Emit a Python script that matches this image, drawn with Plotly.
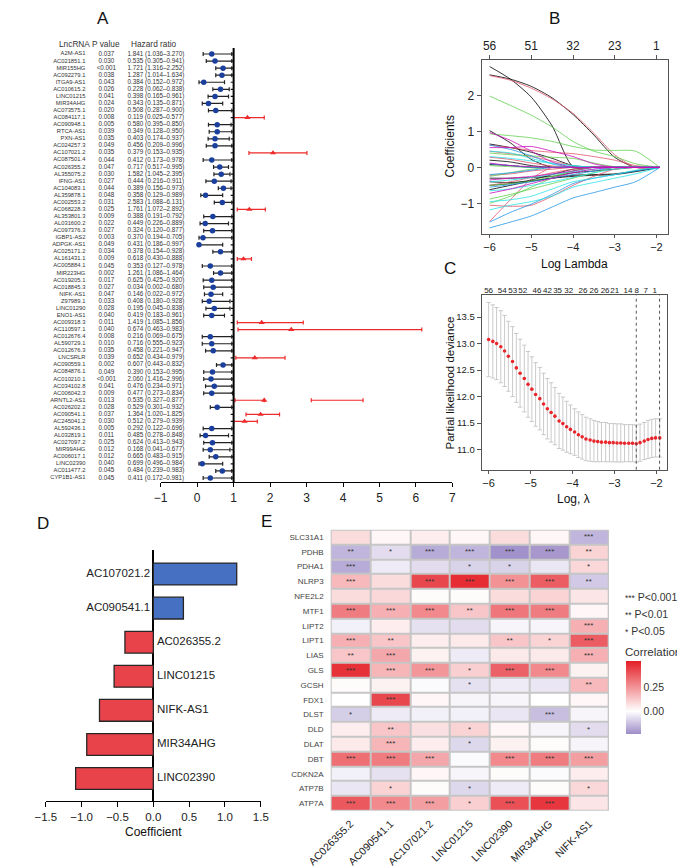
import plotly.graph_objects as go

FONT = "Liberation Sans, Arial, sans-serif"
W, H = 685, 866

# ---------------- Panel A data (forest plot) ----------------
LNC_NAMES = ["A2M-AS1", "AC021851.1", "MIR155HG", "AC092279.1", "ITGA9-AS1", "AC010615.2", "LINC01215",
             "MIR34AHG", "AC073575.1", "AC084117.1", "AC090948.1", "RTCA-AS1", "PXN-AS1", "AC024257.3",
             "AC107021.2", "AC087501.4", "AC026355.2", "AL355075.2", "IFNG-AS1", "AC104083.1", "AL359878.1",
             "AC002553.2", "AC068228.3", "AL353801.3", "AL031600.2", "AC097376.3", "IGBP1-AS2", "ADPGK-AS1",
             "AC025171.2", "AL161431.1", "AC005884.1", "MIR223HG", "AC019205.1", "AC018845.3", "NIFK-AS1",
             "Z97989.1", "LINC01290", "ENO1-AS1", "AC009318.3", "AC110597.1", "AC012676.4", "AL590729.1",
             "AC012676.3", "LNCSRLR", "AC090559.1", "AC084876.1", "AC010210.1", "AC034102.8", "AC006042.3",
             "ARNTL2-AS1", "AC026202.2", "AC090541.1", "AC245041.2", "AL592436.1", "AL032819.1", "AC027097.2",
             "MIR99AHG", "AC006017.1", "LINC02390", "AC011477.2", "CYP1B1-AS1"]
P_VALUES = ["0.037", "0.030", "<0.001", "0.038", "0.043", "0.026", "0.041", "0.024", "0.020", "0.008",
            "0.005", "0.039", "0.035", "0.049", "0.035", "0.044", "0.047", "0.030", "0.027", "0.044",
            "0.048", "0.031", "0.025", "0.009", "0.022", "0.027", "0.003", "0.049", "0.034", "0.009",
            "0.045", "0.002", "0.017", "0.027", "0.047", "0.033", "0.028", "0.040", "0.011", "0.040",
            "0.008", "0.010", "0.035", "0.039", "0.002", "0.049", "<0.001", "0.041", "0.009", "0.013",
            "0.028", "0.037", "0.030", "0.005", "0.011", "0.025", "0.012", "0.012", "0.040", "0.045", "0.045"]
HR_LABEL = [1.841, 0.535, 1.721, 1.287, 0.384, 0.228, 0.398, 0.343, 0.508, 0.119, 0.580, 0.349, 0.403, 0.456,
            0.379, 0.412, 0.717, 1.582, 0.444, 0.389, 0.358, 2.583, 1.761, 0.388, 0.449, 0.324, 0.370, 0.431,
            0.378, 0.618, 0.353, 1.261, 0.625, 0.034, 0.146, 0.408, 0.195, 0.419, 1.419, 0.674, 0.216, 0.716,
            0.458, 0.652, 0.607, 0.390, 2.060, 0.476, 0.477, 0.535, 0.529, 1.364, 0.512, 0.292, 0.485, 0.624,
            0.168, 0.665, 0.699, 0.484, 0.411]
HR_LOW_LABEL = [1.036, 0.305, 1.316, 1.014, 0.152, 0.062, 0.165, 0.135, 0.287, 0.025, 0.395, 0.128, 0.174, 0.209,
                0.153, 0.173, 0.517, 1.045, 0.216, 0.156, 0.129, 1.088, 1.072, 0.191, 0.226, 0.120, 0.194, 0.186,
                0.154, 0.430, 0.127, 1.086, 0.425, 0.002, 0.022, 0.180, 0.045, 0.183, 1.085, 0.463, 0.069, 0.555,
                0.221, 0.434, 0.443, 0.153, 1.416, 0.234, 0.273, 0.327, 0.301, 1.020, 0.279, 0.122, 0.278, 0.413,
                0.041, 0.483, 0.496, 0.239, 0.172]
HR_HIGH_LABEL = [3.270, 0.941, 2.252, 1.634, 0.972, 0.838, 0.961, 0.871, 0.900, 0.577, 0.850, 0.950, 0.937, 0.996,
                 0.935, 0.978, 0.995, 2.395, 0.911, 0.973, 0.989, 6.131, 2.892, 0.792, 0.889, 0.877, 0.705, 0.997,
                 0.928, 0.888, 0.978, 1.464, 0.920, 0.680, 0.972, 0.928, 0.838, 0.961, 1.856, 0.983, 0.675, 0.923,
                 0.947, 0.979, 0.832, 0.995, 2.996, 0.971, 0.834, 0.877, 0.932, 1.825, 0.939, 0.696, 0.848, 0.943,
                 0.677, 0.915, 0.984, 0.983, 0.981]
# positions as drawn in the plot
PLOT_GROUP = list("bbbbbbbbbrbbbbrbbbbbbbrbbbbbbrbbbbbbbbrrbbbrbbbbbrbrrbbbbbbbb")
PLOT_EST = [0.40, 0.49, 0.71, 0.68, 0.18, 0.64, 0.49, 0.31, 0.51, 1.38, 0.55, 0.55, 0.49, 0.49, 2.08, 0.40, 0.62,
            0.66, 0.47, 0.72, 0.23, 0.69, 1.43, 0.43, 0.22, 0.42, 0.16, 0.05, 0.64, 1.27, 0.36, 0.64, 0.40, 0.44,
            0.38, 0.33, 0.47, 0.40, 1.77, 2.58, 0.36, 0.40, 0.44, 1.58, 0.71, 0.42, 0.38, 0.47, 0.40, 1.84, 0.55,
            1.74, 1.30, 0.40, 0.23, 0.42, 0.36, 0.51, 0.14, 0.69, 0.36]
PLOT_LOW = [0.165, 0.25, 0.51, 0.51, 0.05, 0.43, 0.30, 0.14, 0.31, 1.00, 0.31, 0.33, 0.30, 0.25, 1.42, 0.165, 0.45,
            0.46, 0.24, 0.58, 0.10, 0.47, 1.10, 0.18, 0.08, 0.18, 0.05, 0.03, 0.43, 1.10, 0.14, 0.45, 0.165, 0.18,
            0.20, 0.14, 0.24, 0.18, 1.10, 1.12, 0.14, 0.14, 0.23, 1.06, 0.53, 0.18, 0.18, 0.23, 0.18, 1.04, 0.36,
            1.34, 1.00, 0.165, 0.08, 0.18, 0.165, 0.33, 0.05, 0.51, 0.165]
PLOT_HIGH = [0.95, 0.95, 0.95, 0.95, 0.75, 0.88, 0.86, 0.70, 0.95, 1.84, 0.93, 0.95, 0.88, 0.95, 3.01, 0.95, 0.86,
             0.90, 0.93, 0.93, 0.70, 0.95, 1.87, 0.95, 0.86, 0.95, 0.95, 0.70, 0.95, 1.49, 0.95, 0.95, 0.95, 0.95,
             0.70, 0.90, 0.90, 0.75, 2.91, 6.16, 0.95, 0.95, 0.95, 2.41, 0.95, 0.95, 0.95, 0.95, 0.97, 1.84, 0.95,
             2.26, 1.65, 0.95, 0.86, 0.95, 0.90, 0.95, 0.70, 0.95, 0.95]
EXTRA_ROW = ["ARNTL2-AS1"]
EXTRA_LOW = [3.13]
EXTRA_HIGH = [4.55]
HR_REF = 1
HR_TICKS = [-1, 0, 1, 2, 3, 4, 5, 6, 7]

# ---------------- Panel B data (coefficient paths) ----------------
LOG_LAMBDA_B = [-6, -5.5, -5, -4.5, -4, -3.5, -3, -2.5, -1.92]
TOP_B_POS = [-6, -5, -4, -3, -2]
TOP_B_TEXT = ["56", "51", "32", "23", "1"]
PATHS_BLACK = [[2.80, 2.45, 1.95, 1.15, 0.02, 0, 0, 0, 0],
               [2.57, 2.45, 2.25, 1.93, 1.47, 0.90, 0.28, 0, 0],
               [1.02, 0.68, 0.22, 0, 0, 0, 0, 0, 0],
               [0.65, 0.55, 0.42, 0.25, 0.05, 0, 0, 0, 0],
               [0.20, 0.15, 0.05, 0, 0, 0, 0, 0, 0],
               [-0.62, -0.50, -0.38, -0.30, -0.25, -0.22, -0.20, -0.12, 0],
               [-0.30, -0.30, -0.28, -0.25, -0.15, -0.10, -0.05, 0, 0],
               [-0.40, -0.42, -0.38, -0.30, -0.22, -0.20, -0.18, -0.10, 0],
               [0.08, 0.05, 0, 0, 0, 0, 0, 0, 0],
               [-0.50, -0.45, -0.35, -0.20, -0.05, 0, 0, 0, 0]]
PATHS_RED = [[2.55, 2.42, 2.20, 1.90, 1.50, 0.95, 0.35, 0, 0],
             [0.62, 0.55, 0.47, 0.42, 0.38, 0.30, 0.20, 0.05, 0],
             [0.45, 0.38, 0.30, 0.18, 0.05, 0, 0, 0, 0],
             [-1.50, -0.90, -0.32, 0, 0, 0, 0, 0, 0],
             [-1.05, -1.08, -1.05, -0.80, -0.50, -0.25, -0.05, 0, 0],
             [-0.50, -0.40, -0.28, -0.15, -0.05, 0, 0, 0, 0],
             [-0.22, -0.18, -0.10, -0.05, 0, 0, 0, 0, 0],
             [0.28, 0.22, 0.12, 0.04, 0, 0, 0, 0, 0]]
PATHS_GREEN = [[1.98, 1.72, 1.45, 1.12, 0.72, 0.45, 0.30, 0.10, 0],
               [0.93, 0.88, 0.82, 0.72, 0.58, 0.48, 0.47, 0.45, 0],
               [0.40, 0.35, 0.32, 0.28, 0.25, 0.12, 0.02, 0, 0],
               [-1.00, -0.80, -0.55, -0.30, -0.10, 0, 0, 0, 0],
               [-0.88, -0.75, -0.60, -0.45, -0.30, -0.15, 0, 0, 0],
               [-0.25, -0.15, -0.05, 0, 0, 0, 0, 0, 0],
               [-0.50, -0.45, -0.38, -0.25, -0.10, 0, 0, 0, 0],
               [0.05, 0.02, 0, 0, 0, 0, 0, 0, 0]]
PATHS_BLUE = [[0.62, 0.50, 0.32, 0.10, 0, 0, 0, 0, 0],
              [-1.68, -1.52, -1.35, -1.10, -0.85, -0.70, -0.55, -0.40, 0],
              [-1.52, -1.25, -1.02, -0.75, -0.45, -0.30, -0.20, -0.10, 0],
              [-0.55, -0.48, -0.40, -0.30, -0.20, -0.10, 0, 0, 0],
              [-0.20, -0.15, -0.08, 0, 0, 0, 0, 0, 0],
              [0.10, 0.05, 0, 0, 0, 0, 0, 0, 0]]
PATHS_CYAN = [[0.45, 0.40, 0.25, 0.10, 0.05, 0, 0, 0, 0],
              [0.30, 0.25, 0.18, 0.12, 0.05, 0, 0, 0, 0],
              [-1.18, -1.05, -0.95, -0.80, -0.55, -0.42, -0.30, -0.18, 0],
              [-0.95, -0.90, -0.80, -0.60, -0.40, -0.30, -0.20, -0.08, 0],
              [-0.40, -0.35, -0.28, -0.20, -0.12, -0.05, 0, 0, 0],
              [-0.65, -0.60, -0.50, -0.40, -0.28, -0.15, -0.05, 0, 0]]
PATHS_MAGENTA = [[0.97, 0.75, 0.45, 0.15, 0, 0, 0, 0, 0],
                 [0.55, 0.55, 0.58, 0.45, 0.30, 0.10, 0, 0, 0],
                 [0.12, 0.05, 0.02, 0, 0, 0, 0, 0, 0],
                 [-0.72, -0.60, -0.45, -0.30, -0.15, -0.05, 0, 0, 0],
                 [-0.35, -0.30, -0.25, -0.18, -0.10, 0, 0, 0, 0]]

# ---------------- Panel C data (cross-validation) ----------------
LOG_LAMBDA_C = [-6.00, -5.90, -5.81, -5.71, -5.62, -5.53, -5.43, -5.34, -5.25, -5.15, -5.06, -4.97, -4.88, -4.78,
                -4.69, -4.60, -4.51, -4.42, -4.32, -4.23, -4.14, -4.05, -3.95, -3.86, -3.77, -3.68, -3.58, -3.49,
                -3.40, -3.31, -3.21, -3.12, -3.03, -2.94, -2.85, -2.76, -2.66, -2.57, -2.48, -2.39, -2.29, -2.20,
                -2.11, -2.02, -1.92]
CV_DEVIANCE = [13.075, 13.04, 13.00, 12.94, 12.86, 12.76, 12.66, 12.54, 12.44, 12.34, 12.23, 12.14, 12.04, 11.96,
               11.86, 11.77, 11.70, 11.63, 11.54, 11.49, 11.43, 11.38, 11.33, 11.28, 11.24, 11.20, 11.18, 11.16,
               11.15, 11.14, 11.14, 11.13, 11.13, 11.125, 11.125, 11.12, 11.12, 11.12, 11.11, 11.13, 11.16, 11.19,
               11.21, 11.22, 11.22]
CV_SE = [0.70, 0.69, 0.68, 0.68, 0.67, 0.66, 0.66, 0.65, 0.64, 0.63, 0.62, 0.61, 0.60, 0.59, 0.58, 0.57, 0.56,
         0.54, 0.52, 0.50, 0.48, 0.46, 0.44, 0.43, 0.42, 0.41, 0.40, 0.39, 0.38, 0.37, 0.37, 0.36, 0.36, 0.36,
         0.36, 0.35, 0.35, 0.35, 0.35, 0.35, 0.35, 0.36, 0.36, 0.36, 0.36]
TOP_C_POS = [-6.0, -5.675, -5.426, -5.185, -4.845, -4.596, -4.355, -4.091, -3.751, -3.487, -3.223, -2.996,
             -2.679, -2.468, -2.257, -2.038]
TOP_C_TEXT = ["56", "54", "53", "52", "46", "42", "35", "32", "26", "26", "26", "21", "14", "8", "7", "1"]
LAMBDA_MIN = -2.48
LAMBDA_1SE = -1.925

# ---------------- Panel D data ----------------
D_GENES = ["AC107021.2", "AC090541.1", "AC026355.2", "LINC01215", "NIFK-AS1", "MIR34AHG", "LINC02390"]
D_COEF = [1.164, 0.42, -0.396, -0.547, -0.751, -0.929, -1.084]
D_TICKS = [-1.5, -1.0, -0.5, 0.0, 0.5, 1.0, 1.5]

# ---------------- Panel E data ----------------
E_GENES = ["SLC31A1", "PDHB", "PDHA1", "NLRP3", "NFE2L2", "MTF1", "LIPT2", "LIPT1", "LIAS", "GLS", "GCSH",
           "FDX1", "DLST", "DLD", "DLAT", "DBT", "CDKN2A", "ATP7B", "ATP7A"]
E_LNC = ["AC026355.2", "AC090541.1", "AC107021.2", "LINC01215", "LINC02390", "MIR34AHG", "NIFK-AS1"]
COR_AC026355_2 = [0.08, -0.15, -0.17, 0.16, 0.08, 0.30, -0.03, 0.18, 0.13, 0.47, 0.01, 0.00, -0.10, 0.04, 0.05,
                  0.33, -0.03, -0.05, 0.38]
COR_AC090541_1 = [0.02, -0.07, -0.04, 0.08, 0.09, 0.18, 0.04, 0.13, 0.20, 0.17, 0.03, 0.42, -0.04, 0.13, 0.17,
                  0.30, -0.06, 0.10, 0.27]
COR_AC107021_2 = [0.04, -0.17, -0.07, 0.42, 0.01, 0.27, -0.06, 0.04, 0.03, 0.24, -0.01, 0.02, -0.03, 0.07, 0.04,
                  0.20, 0.02, 0.01, 0.22]
COR_LINC01215 = [0.02, -0.15, -0.09, 0.48, 0.01, 0.13, -0.07, 0.05, -0.04, 0.11, -0.06, -0.02, -0.03, 0.10, -0.08,
                 -0.01, -0.02, -0.08, 0.11]
COR_LINC02390 = [0.08, -0.22, -0.09, 0.25, 0.08, 0.31, -0.02, 0.13, 0.05, 0.36, -0.04, -0.02, -0.05, 0.02, 0.03,
                 0.27, 0.01, -0.04, 0.40]
COR_MIR34AHG = [0.02, -0.21, -0.05, 0.37, 0.10, 0.30, -0.02, 0.10, 0.05, 0.27, -0.05, 0.00, -0.13, -0.02, 0.01,
                0.30, -0.01, 0.01, 0.46]
COR_NIFK_AS1 = [-0.15, 0.10, 0.09, -0.11, 0.06, 0.02, 0.18, 0.37, 0.18, 0.03, 0.16, 0.02, -0.02, -0.07, -0.02,
                0.22, 0.04, 0.09, 0.06]
SIG_AC026355_2 = ["", "**", "***", "***", "", "***", "", "***", "**", "***", "", "", "*", "", "", "***", "", "", "***"]
SIG_AC090541_1 = ["", "*", "", "", "", "***", "", "**", "***", "***", "", "***", "", "**", "***", "***", "", "*", "***"]
SIG_AC107021_2 = ["", "***", "", "***", "", "***", "", "", "", "***", "", "", "", "", "", "***", "", "", "***"]
SIG_LINC01215 = ["", "***", "*", "***", "", "**", "", "", "", "*", "*", "", "", "*", "*", "", "", "*", "*"]
SIG_LINC02390 = ["", "***", "*", "***", "", "***", "", "**", "", "***", "", "", "", "", "", "***", "", "", "***"]
SIG_MIR34AHG = ["", "***", "", "***", "", "***", "", "*", "", "***", "", "", "***", "", "", "***", "", "", "***"]
SIG_NIFK_AS1 = ["***", "**", "*", "**", "", "", "***", "***", "***", "", "**", "", "", "*", "", "***", "", "*", ""]
COR_LIMITS = [-0.233, 0.514]
COR_TICKS = [0.0, 0.25]


def px(x):
    return x / W


def py(y):
    return 1 - y / H


fig = go.Figure()
txt = dict(family=FONT, color="#333")

# ---------------- Panel A ----------------
rows = list(range(1, len(LNC_NAMES) + 1))
bi = [i for i, g in enumerate(PLOT_GROUP) if g == "b"]
ri = [i for i, g in enumerate(PLOT_GROUP) if g == "r"]

fig.add_trace(go.Scatter(
    x=[HR_REF - 0.045] * len(rows), y=rows, mode="markers", marker=dict(size=0.1, opacity=0),
    error_x=dict(type="constant", value=0.035, color="#111", thickness=1.2, width=0),
    xaxis="x", yaxis="y", hoverinfo="skip", showlegend=False))
fig.add_trace(go.Scatter(
    x=[PLOT_EST[i] for i in bi], y=[rows[i] for i in bi], mode="markers",
    marker=dict(symbol="circle", size=5.5, color="#1b3f9c"),
    error_x=dict(type="data", symmetric=False, array=[PLOT_HIGH[i] - PLOT_EST[i] for i in bi],
                 arrayminus=[PLOT_EST[i] - PLOT_LOW[i] for i in bi], color="#222", thickness=1.2, width=2),
    xaxis="x", yaxis="y", showlegend=False))
fig.add_trace(go.Scatter(
    x=[PLOT_EST[i] for i in ri], y=[rows[i] for i in ri], mode="markers",
    marker=dict(symbol="triangle-up", size=5.5, color="#ee2a2a"),
    error_x=dict(type="data", symmetric=False, array=[PLOT_HIGH[i] - PLOT_EST[i] for i in ri],
                 arrayminus=[PLOT_EST[i] - PLOT_LOW[i] for i in ri], color="#ee2a2a", thickness=1.2, width=2),
    xaxis="x", yaxis="y", showlegend=False))
ex_rows = [rows[LNC_NAMES.index(n)] for n in EXTRA_ROW]
fig.add_trace(go.Scatter(
    x=[(a + b) / 2 for a, b in zip(EXTRA_LOW, EXTRA_HIGH)], y=ex_rows, mode="markers",
    marker=dict(size=0.1, opacity=0),
    error_x=dict(type="data", array=[(b - a) / 2 for a, b in zip(EXTRA_LOW, EXTRA_HIGH)],
                 color="#ee2a2a", thickness=1.2, width=2),
    xaxis="x", yaxis="y", showlegend=False))
fig.add_shape(type="line", xref="x", yref="y domain", x0=HR_REF, x1=HR_REF, y0=0, y1=1,
              line=dict(color="black", width=2))

hr_text = [f"{h:.3f} ({l:.3f}\u2013{u:.3f})" for h, l, u in zip(HR_LABEL, HR_LOW_LABEL, HR_HIGH_LABEL)]
fig.add_trace(go.Scatter(x=[56] * len(rows), y=rows, mode="text", text=LNC_NAMES, textposition="middle left",
                         textfont=dict(size=5.8, **txt), xaxis="x2", yaxis="y", cliponaxis=False,
                         hoverinfo="skip", showlegend=False))
fig.add_trace(go.Scatter(x=[78] * len(rows), y=rows, mode="text", text=P_VALUES, textposition="middle center",
                         textfont=dict(size=6.3, **txt), xaxis="x2", yaxis="y", cliponaxis=False,
                         hoverinfo="skip", showlegend=False))
fig.add_trace(go.Scatter(x=[130] * len(rows), y=rows, mode="text", text=hr_text, textposition="middle center",
                         textfont=dict(size=6.3, **txt), xaxis="x2", yaxis="y", cliponaxis=False,
                         hoverinfo="skip", showlegend=False))

# ---------------- Panel B ----------------
palette = [(PATHS_BLACK, "#000000"), (PATHS_RED, "#DF536B"), (PATHS_GREEN, "#61D04F"),
           (PATHS_BLUE, "#2297E6"), (PATHS_CYAN, "#28E2E5"), (PATHS_MAGENTA, "#CD0BBC")]
for paths, col in palette:
    for p in paths:
        fig.add_trace(go.Scatter(x=LOG_LAMBDA_B, y=p, mode="lines",
                                 line=dict(color=col, width=0.8, shape="spline", smoothing=0.7),
                                 xaxis="x3", yaxis="y3", hoverinfo="skip", showlegend=False))
fig.add_trace(go.Scatter(x=TOP_B_POS, y=[None] * len(TOP_B_POS), mode="markers", xaxis="x4", yaxis="y3",
                         showlegend=False, hoverinfo="skip"))

# ---------------- Panel C ----------------
fig.add_trace(go.Scatter(
    x=LOG_LAMBDA_C, y=CV_DEVIANCE, mode="markers", marker=dict(size=3.6, color="#e8262b"),
    error_y=dict(type="data", array=CV_SE, color="#c4c4c4", thickness=0.9, width=2.2),
    xaxis="x5", yaxis="y5", showlegend=False))
fig.add_trace(go.Scatter(x=TOP_C_POS, y=[None] * len(TOP_C_POS), mode="markers", xaxis="x6", yaxis="y5",
                         showlegend=False, hoverinfo="skip"))
for lam in (LAMBDA_MIN, LAMBDA_1SE):
    fig.add_shape(type="line", xref="x5", yref="y5 domain", x0=lam, x1=lam, y0=0, y1=1,
                  line=dict(color="#555", width=1, dash="dot"))

# ---------------- Panel D ----------------
d_idx = list(range(len(D_GENES)))
fig.add_trace(go.Bar(x=D_COEF, y=d_idx, orientation="h", width=0.64,
                     marker=dict(color=["#4670c2" if c > 0 else "#e8434b" for c in D_COEF],
                                 line=dict(color="#262626", width=1.3)),
                     xaxis="x7", yaxis="y7", showlegend=False))
pos = [i for i in d_idx if D_COEF[i] > 0]
neg = [i for i in d_idx if D_COEF[i] <= 0]
fig.add_trace(go.Scatter(x=[124] * len(pos), y=pos, mode="text", text=[D_GENES[i] for i in pos],
                         textposition="middle left", textfont=dict(size=11.5, family=FONT, color="#222"),
                         xaxis="x9", yaxis="y7", cliponaxis=False, showlegend=False, hoverinfo="skip"))
fig.add_trace(go.Scatter(x=[131] * len(neg), y=neg, mode="text", text=[D_GENES[i] for i in neg],
                         textposition="middle right", textfont=dict(size=11.5, family=FONT, color="#222"),
                         xaxis="x9", yaxis="y7", cliponaxis=False, showlegend=False, hoverinfo="skip"))

# ---------------- Panel E ----------------
cols = [COR_AC026355_2, COR_AC090541_1, COR_AC107021_2, COR_LINC01215, COR_LINC02390, COR_MIR34AHG, COR_NIFK_AS1]
sigs = [SIG_AC026355_2, SIG_AC090541_1, SIG_AC107021_2, SIG_LINC01215, SIG_LINC02390, SIG_MIR34AHG, SIG_NIFK_AS1]
z = [[cols[j][i] for j in range(len(cols))] for i in range(len(E_GENES))]
stars = [[sigs[j][i] for j in range(len(sigs))] for i in range(len(E_GENES))]
mid = (0 - COR_LIMITS[0]) / (COR_LIMITS[1] - COR_LIMITS[0])
fig.add_shape(type="rect", xref="x8 domain", yref="y8 domain", x0=0, x1=1, y0=0, y1=1,
              fillcolor="#c6c6c6", line=dict(width=0), layer="below")
fig.add_trace(go.Heatmap(
    z=z, x=E_LNC, y=E_GENES, text=stars, texttemplate="%{text}",
    textfont=dict(size=8, color="#333", family=FONT),
    zmin=COR_LIMITS[0], zmax=COR_LIMITS[1], xgap=2, ygap=2,
    colorscale=[[0, "#9d8cc8"], [mid, "#ffffff"], [1, "#e41e26"]],
    colorbar=dict(x=px(622.7), xanchor="left", xpad=0, ypad=0, y=py(689.7), yanchor="middle",
                  lenmode="pixels", len=73, thicknessmode="pixels", thickness=15, outlinewidth=0,
                  tickvals=COR_TICKS, ticktext=[f"{t:.2f}" for t in COR_TICKS], ticks="",
                  tickfont=dict(size=10.5, family=FONT, color="#333")),
    xaxis="x8", yaxis="y8", hoverinfo="skip"))

# ---------------- layout ----------------
tickf = dict(size=12, family=FONT, color="#222")
tickfx = dict(size=11, family=FONT, color="#222")
noax = dict(showgrid=False, zeroline=False)
ann = []


def A(x, y, t, size, xanchor="center", color="#111", **kw):
    ann.append(dict(x=px(x), y=py(y), xref="paper", yref="paper", text=t, showarrow=False,
                    xanchor=xanchor, yanchor="middle", borderpad=0,
                    font=dict(size=size, family=FONT, color=color), **kw))


A(75, 11, "A", 17)
A(548, 11, "B", 17)
A(438, 260, "C", 17)
A(12, 515, "D", 17)
A(246, 513, "E", 17)
A(45, 36, "LncRNA", 8.3, color="#333")
A(78, 36, "P value", 8.3, color="#333")
A(128, 36, "Hazard ratio", 8.3, color="#333")
A(569, 256, "Log Lambda", 12)
A(438, 139, "Coefficients", 12, textangle=-90)
A(568, 491, "Log, \u03bb", 12)
A(439, 375, "Partial likelihood deviance", 11.5, textangle=-90)
A(127, 824, "Coefficient", 12)
A(621.5, 644, "Correlation", 11.5, xanchor="left", color="#333")
A(621.5, 589, "<span style='font-size:8.5px'>***</span> P<0.001", 10.5, xanchor="left", color="#333")
A(621.5, 606, "<span style='font-size:8.5px'>**</span> P<0.01", 10.5, xanchor="left", color="#333")
A(621.5, 623, "<span style='font-size:8.5px'>*</span> P<0.05", 10.5, xanchor="left", color="#333")

fig.update_layout(
    width=W, height=H, margin=dict(l=0, r=0, t=0, b=0), paper_bgcolor="white", plot_bgcolor="rgba(0,0,0,0)",
    font=dict(family=FONT), showlegend=False, annotations=ann,
    xaxis=dict(domain=[px(135), px(441)], range=[-1, 7], anchor="y", tickvals=HR_TICKS, showline=True,
               linecolor="black", linewidth=1.2, ticks="outside", ticklen=4, tickcolor="black", tickfont=tickf, **noax),
    yaxis=dict(domain=[py(474), py(40)], range=[61.566, 0.151], anchor="x", visible=False),
    xaxis2=dict(domain=[0, 1], range=[0, W], anchor="y", visible=False),
    xaxis3=dict(domain=[px(471.7), px(666.7)], range=[-6.19, -1.733], anchor="y3", tickvals=TOP_B_POS,
                showline=True, mirror=True, linecolor="#555", linewidth=1, ticks="outside", ticklen=3,
                tickcolor="#555", tickfont=tickfx, **noax),
    yaxis3=dict(domain=[py(226), py(51.7)], range=[-1.85, 2.99], anchor="x3", tickvals=[-1, 0, 1, 2],
                showline=True, mirror=True, linecolor="#555", linewidth=1, ticks="outside", ticklen=4,
                tickcolor="#555", tickfont=tickf, **noax),
    xaxis4=dict(overlaying="x3", side="top", anchor="y3", range=[-6.19, -1.733], tickvals=TOP_B_POS,
                ticktext=TOP_B_TEXT, ticks="outside", ticklen=4, tickcolor="#555", tickfont=tickf,
                showline=False, **noax),
    xaxis5=dict(domain=[px(471.7), px(665.7)], range=[-6.166, -1.757], anchor="y5", tickvals=TOP_B_POS,
                showline=True, mirror=True, linecolor="#555", linewidth=1, ticks="outside", ticklen=3,
                tickcolor="#555", tickfont=tickfx, **noax),
    yaxis5=dict(domain=[py(461.7), py(287.3)], range=[10.62, 13.91], anchor="x5",
                tickvals=[11, 11.5, 12, 12.5, 13, 13.5], ticktext=["11.0", "11.5", "12.0", "12.5", "13.0", "13.5"],
                showline=True, mirror=True, linecolor="#555", linewidth=1, ticks="outside", ticklen=4,
                tickcolor="#555", tickfont=dict(size=9.5, family=FONT, color="#222"), **noax),
    xaxis6=dict(overlaying="x5", side="top", anchor="y5", range=[-6.166, -1.757], tickvals=TOP_C_POS,
                ticktext=TOP_C_TEXT, ticks="", tickangle=0, tickfont=dict(size=8, family=FONT, color="#222"),
                showline=False, **noax),
    xaxis7=dict(domain=[px(14.5), px(240)], range=[-1.5, 1.5], anchor="y7", tickvals=D_TICKS,
                ticktext=[f"{t:.1f}".replace("-", "\u2212") for t in D_TICKS], showline=True,
                linecolor="black", linewidth=1.3, ticks="outside", ticklen=5, tickcolor="black",
                tickfont=dict(size=11.5, family=FONT, color="#222"), showgrid=False,
                zeroline=True, zerolinecolor="black", zerolinewidth=2.2),
    yaxis7=dict(domain=[py(792.7), py(541.7)], range=[6.65, -0.713], anchor="x7", visible=False),
    xaxis9=dict(domain=[0, 1], range=[0, W], anchor="y7", visible=False),
    xaxis8=dict(domain=[px(313.3), px(605.3)], anchor="y8", tickangle=-45, ticks="", ticklabelstandoff=4,
                tickfont=dict(size=10.5, family=FONT, color="#222"), showline=False, **noax),
    yaxis8=dict(domain=[py(802.7), py(521.7)], anchor="x8", autorange="reversed", ticks="",
                ticklabelstandoff=6, tickfont=dict(size=8, family=FONT, color="#444"), showline=False, **noax),
)

fig.write_html("out.html")
